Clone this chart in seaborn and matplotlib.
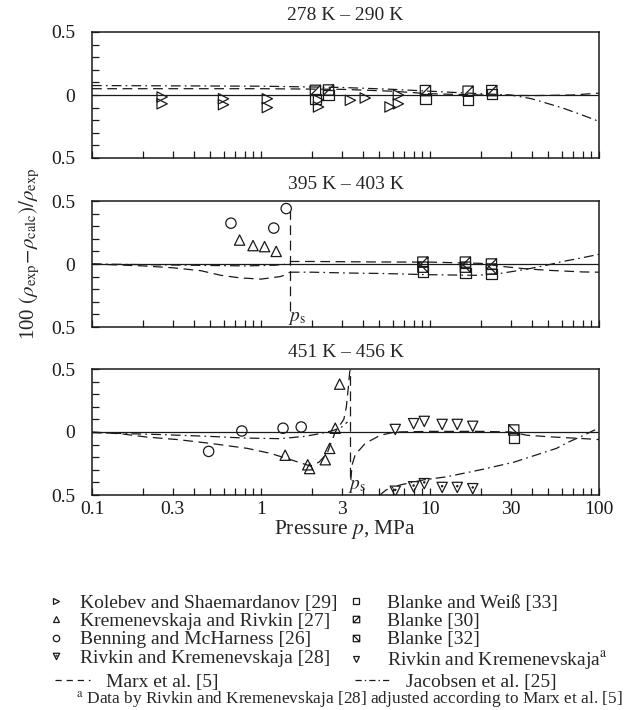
import numpy as np
import pandas as pd
import matplotlib
matplotlib.use("Agg")
import matplotlib.pyplot as plt
import seaborn as sns
from matplotlib.path import Path
from matplotlib.lines import Line2D
from matplotlib.ticker import FixedLocator, FixedFormatter, LogLocator, NullFormatter

# ---------------- data ----------------
titles = ["278 K \u2013 290 K", "395 K \u2013 403 K", "451 K \u2013 456 K"]
xtick_vals = [0.1, 0.3, 1, 3, 10, 30, 100]
xtick_labels = ["0.1", "0.3", "1", "3", "10", "30", "100"]
ytick_vals = [-0.5, 0.0, 0.5]
ytick_labels = ["0.5", "0", "0.5"]

# panel 1 : 278 K - 290 K
kol_p = [0.26, 0.26, 0.60, 0.60, 1.09, 1.09, 2.19, 2.19, 3.38, 4.14, 5.8, 6.5, 6.5]
kol_v = [-0.016, -0.07, -0.03, -0.077, -0.03, -0.10, -0.04, -0.095, -0.042, -0.024, -0.095, -0.07, 0.0]
b30_p1 = [2.1, 2.51, 9.4, 16.8, 23.2]
b30_v1 = [0.037, 0.040, 0.035, 0.030, 0.035]
bw_p1 = [2.1, 2.51, 9.4, 16.8, 23.2]
bw_v1 = [-0.03, 0.0, -0.03, -0.04, 0.01]
marx_p1 = [0.1, 1, 3, 6, 10, 20, 40, 70, 100]
marx_v1 = [0.05, 0.05, 0.045, 0.03, 0.01, 0.0, -0.005, 0.0, 0.015]
jac_p1 = [0.1, 1, 3, 6, 10, 20, 30, 40, 60, 80, 100]
jac_v1 = [0.075, 0.07, 0.06, 0.045, 0.03, 0.01, 0.0, -0.03, -0.10, -0.16, -0.21]

# panel 2 : 395 K - 403 K
ps2 = 1.48
ps2_top, ps2_bot = 0.42, -0.37
ben_p2 = [0.664, 1.19, 1.41]
ben_v2 = [0.324, 0.285, 0.44]
krem_p2 = [0.747, 0.897, 1.05, 1.23]
krem_v2 = [0.19, 0.146, 0.138, 0.10]
b30_p2 = [9.08, 16.2, 23.1]
b30_v2 = [0.015, 0.015, 0.0]
b32_p2 = [9.08, 16.2, 23.1]
b32_v2 = [-0.025, -0.025, -0.04]
bw_p2 = [9.08, 16.2, 23.1]
bw_v2 = [-0.06, -0.07, -0.08]
marx_l_p2 = [0.1, 0.2, 0.3, 0.44, 0.58, 0.75, 1.0, 1.3, 1.43, 1.48]
marx_l_v2 = [0.0, -0.015, -0.03, -0.053, -0.09, -0.11, -0.12, -0.10, -0.08, -0.065]
marx_r_p2 = [1.48, 2, 5, 10, 20, 27, 36, 50, 80, 100]
marx_r_v2 = [0.02, 0.02, 0.016, 0.015, 0.005, -0.02, -0.037, -0.05, -0.063, -0.065]
jac_l_p2 = [0.1, 0.4, 0.8, 1.2, 1.48]
jac_l_v2 = [0.0, -0.01, -0.015, -0.01, 0.0]
jac_r_p2 = [1.48, 2, 3.4, 5.1, 10, 19, 26, 36, 49, 59, 80, 100]
jac_r_v2 = [-0.065, -0.065, -0.072, -0.075, -0.085, -0.09, -0.075, -0.045, -0.01, 0.016, 0.05, 0.077]

# panel 3 : 451 K - 456 K
ps3 = 3.38
ps3_top, ps3_bot = 0.5, -0.36
ben_p3 = [0.49, 0.77, 1.35, 1.73]
ben_v3 = [-0.154, 0.008, 0.03, 0.04]
krem_p3 = [1.39, 1.89, 1.94, 2.40, 2.55, 2.75, 2.92]
krem_v3 = [-0.184, -0.26, -0.29, -0.22, -0.13, 0.03, 0.38]
riv_p3 = [6.23, 8.0, 9.25, 11.8, 14.5, 17.9]
riv_v3 = [-0.47, -0.435, -0.41, -0.44, -0.44, -0.45]
riva_p3 = [6.23, 8.0, 9.25, 11.8, 14.5, 17.9]
riva_v3 = [0.02, 0.066, 0.084, 0.06, 0.06, 0.045]
b32_p3 = [31.3]
b32_v3 = [0.016]
bw_p3 = [31.3]
bw_v3 = [-0.05]
marx_l_p3 = [0.1, 0.15, 0.21, 0.32, 0.5, 0.83, 1.14, 1.5, 1.96, 2.2, 2.46, 2.75, 3.09, 3.2, 3.3, 3.36]
marx_l_v3 = [0.0, -0.015, -0.04, -0.06, -0.09, -0.13, -0.17, -0.22, -0.27, -0.24, -0.17, 0.0, 0.1, 0.2, 0.38, 0.5]
marx_r_p3 = [3.40, 3.46, 3.61, 4.14, 5.08, 6.23, 10, 20, 30, 37.5, 54, 75, 100]
marx_r_v3 = [-0.38, -0.26, -0.18, -0.09, -0.026, 0.0, 0.005, 0.005, 0.0, -0.026, -0.04, -0.05, -0.06]
jac_l_p3 = [0.1, 0.25, 0.5, 0.8, 1.3, 1.8, 2.24, 2.69, 3.0, 3.25]
jac_l_v3 = [-0.005, -0.02, -0.035, -0.048, -0.053, -0.035, -0.013, 0.013, 0.04, 0.08]
jac_r_p3 = [5.05, 5.5, 6.67, 9.16, 12.6, 19.9, 31.3, 43, 56, 66, 80, 94, 100]
jac_r_v3 = [-0.5, -0.46, -0.42, -0.38, -0.355, -0.30, -0.24, -0.18, -0.13, -0.08, -0.03, 0.015, 0.025]

legend_left = ["Kolebev and Shaemardanov [29]", "Kremenevskaja and Rivkin [27]",
               "Benning and McHarness [26]", "Rivkin and Kremenevskaja [28]"]
legend_right = ["Blanke and Wei\u00df [33]", "Blanke [30]", "Blanke [32]",
                "Rivkin and Kremenevskaja$^{\\rm a}$"]
line_labels = ["Marx et al. [5]", "Jacobsen et al. [25]"]
footnote = "$^{\\rm a}$ Data by Rivkin and Kremenevskaja [28] adjusted according to Marx et al. [5]"

# ---------------- style ----------------
sns.set_theme(style="ticks")
plt.rcParams['font.family'] = ['Liberation Serif', 'DejaVu Serif']
plt.rcParams['mathtext.fontset'] = 'stix'
plt.rcParams['lines.scale_dashes'] = False
FS = 14

M, L, C = Path.MOVETO, Path.LINETO, Path.CLOSEPOLY
sq_slash = Path([(-1, -1), (1, -1), (1, 1), (-1, 1), (-1, -1), (-1, -1), (1, 1)],
                [M, L, L, L, C, M, L])
sq_back = Path([(-1, -1), (1, -1), (1, 1), (-1, 1), (-1, -1), (-1, 1), (1, -1)],
               [M, L, L, L, C, M, L])
tri = Path([(-1, 1), (1, 1), (0, -1), (-1, 1)], [M, L, L, C])
dot = Path.circle((0, 0.25), 0.12)
tri_dot = Path.make_compound_path(tri, dot)

MARKERS = {"kol": ">", "krem": "^", "ben": "o", "riv": tri_dot,
           "bw": "s", "b30": sq_slash, "b32": sq_back, "riva": "v"}
DASH = (0, (7, 4))
DASHDOT = (0, (7, 3, 1.2, 3))
DASH_LEG = (0, (4.5, 3.5))
DASHDOT_LEG = (0, (4.5, 2.2, 1.0, 2.2))

fig = plt.figure(figsize=(6.3, 7.1), dpi=100)
W, H = 630.0, 710.0
ax_left, ax_right = 92, 599
panel_px = [(32, 158), (201, 327), (369, 495)]
axes = []
for top, bot in panel_px:
    axes.append(fig.add_axes([ax_left / W, 1 - bot / H, (ax_right - ax_left) / W, (bot - top) / H]))


def scatter(ax, p, v, key, s=55):
    df = pd.DataFrame({"p": p, "v": v})
    sns.scatterplot(data=df, x="p", y="v", ax=ax, marker=MARKERS[key], s=s,
                    color="k", linewidth=0.9, legend=False, zorder=4)
    coll = ax.collections[-1]
    coll.set_facecolor("none")
    coll.set_edgecolor("k")
    coll.set_linewidth(0.9)


def curve(ax, p, v, ls):
    df = pd.DataFrame({"p": p, "v": v})
    sns.lineplot(data=df, x="p", y="v", ax=ax, color="k", sort=False, estimator=None,
                 legend=False, zorder=3)
    ln = ax.lines[-1]
    ln.set_linestyle(ls)
    ln.set_linewidth(0.9)


def ps_mark(ax, ps, top, bot):
    ax.vlines([ps], [bot], [top], colors="k", linestyles=[DASH], linewidth=0.9, zorder=3)
    ax.annotate("$p_{\\rm s}$", xy=(ps, -0.43), xytext=(5, 0), textcoords="offset points",
                ha="center", va="center", fontsize=FS)


# panel 1
a = axes[0]
curve(a, marx_p1, marx_v1, DASH)
curve(a, jac_p1, jac_v1, DASHDOT)
scatter(a, kol_p, kol_v, "kol")
scatter(a, bw_p1, bw_v1, "bw")
scatter(a, b30_p1, b30_v1, "b30")

# panel 2
a = axes[1]
curve(a, marx_l_p2, marx_l_v2, DASH)
curve(a, marx_r_p2, marx_r_v2, DASH)
curve(a, jac_l_p2, jac_l_v2, DASHDOT)
curve(a, jac_r_p2, jac_r_v2, DASHDOT)
ps_mark(a, ps2, ps2_top, ps2_bot)
scatter(a, ben_p2, ben_v2, "ben")
scatter(a, krem_p2, krem_v2, "krem")
scatter(a, bw_p2, bw_v2, "bw")
scatter(a, b32_p2, b32_v2, "b32")
scatter(a, b30_p2, b30_v2, "b30")

# panel 3
a = axes[2]
curve(a, marx_l_p3, marx_l_v3, DASH)
curve(a, marx_r_p3, marx_r_v3, DASH)
curve(a, jac_l_p3, jac_l_v3, DASHDOT)
curve(a, jac_r_p3, jac_r_v3, DASHDOT)
ps_mark(a, ps3, ps3_top, ps3_bot)
scatter(a, ben_p3, ben_v3, "ben")
scatter(a, krem_p3, krem_v3, "krem")
scatter(a, riva_p3, riva_v3, "riva")
scatter(a, riv_p3, riv_v3, "riv")
scatter(a, bw_p3, bw_v3, "bw")
scatter(a, b32_p3, b32_v3, "b32")

for i, a in enumerate(axes):
    a.axhline(0, color="k", lw=0.9, zorder=2)
    a.set_xscale("log")
    a.set_xlim(0.1, 100)
    a.set_ylim(-0.5, 0.5)
    a.set_xlabel("")
    a.set_ylabel("")
    a.xaxis.set_major_locator(FixedLocator(xtick_vals))
    a.xaxis.set_minor_locator(LogLocator(base=10, subs=[2, 4, 5, 6, 7, 8, 9], numticks=20))
    a.xaxis.set_minor_formatter(NullFormatter())
    if i == 2:
        a.xaxis.set_major_formatter(FixedFormatter(xtick_labels))
    else:
        a.xaxis.set_major_formatter(NullFormatter())
    a.yaxis.set_major_locator(FixedLocator(ytick_vals))
    a.yaxis.set_major_formatter(FixedFormatter(ytick_labels))
    a.yaxis.set_minor_locator(FixedLocator([-0.4, -0.3, -0.2, -0.1, 0.1, 0.2, 0.3, 0.4]))
    a.tick_params(which="both", direction="in", length=5, width=0.9, top=False, right=False,
                  labelsize=FS, colors="k")
    a.tick_params(axis="y", pad=12)
    a.tick_params(axis="x", pad=4)
    for sp in a.spines.values():
        sp.set_visible(True)
        sp.set_linewidth(1.1)
        sp.set_color("k")
    a.set_title(titles[i], fontsize=FS, pad=8.5)

axes[2].set_xlabel("Pressure $p$, MPa", fontsize=15.5, labelpad=0)
fig.text(30 / W, 1 - 254 / H, "100 $(\\rho_{\\rm exp}\\!-\\!\\rho_{\\rm calc})/\\rho_{\\rm exp}$",
         rotation=90, ha="center", va="center", fontsize=15)

# ---------------- legend ----------------
def mk_handle(key, lw=0.9):
    return Line2D([], [], linestyle="none", marker=MARKERS[key], markersize=4.6,
                  markerfacecolor="none", markeredgecolor="k", markeredgewidth=lw)

left_h = [mk_handle(k) for k in ["kol", "krem", "ben", "riv"]]
right_h = [mk_handle(k) for k in ["bw", "b30", "b32", "riva"]]
line_h = [Line2D([], [], color="k", lw=0.9, linestyle=DASH_LEG),
          Line2D([], [], color="k", lw=0.9, linestyle=DASHDOT_LEG)]

common = dict(frameon=False, fontsize=FS, borderpad=0, borderaxespad=0, loc="upper left",
              labelspacing=0.04)
fig.legend(left_h, legend_left, bbox_to_anchor=(46 / W, 1 - 594 / H), handlelength=1.0,
           handletextpad=0.74, **common)
fig.legend(right_h, legend_right, bbox_to_anchor=(346 / W, 1 - 594 / H), handlelength=1.0,
           handletextpad=1.1, **common)
fig.legend(line_h[:1], line_labels[:1], bbox_to_anchor=(55 / W, 1 - 673 / H), handlelength=1.8,
           handletextpad=0.8, **common)
fig.legend(line_h[1:], line_labels[1:], bbox_to_anchor=(355 / W, 1 - 673 / H), handlelength=1.8,
           handletextpad=0.8, **common)
fig.text(349 / W, 1 - 700 / H, footnote, ha="center", va="center", fontsize=12.4)

fig.savefig("out.png", dpi=100)
